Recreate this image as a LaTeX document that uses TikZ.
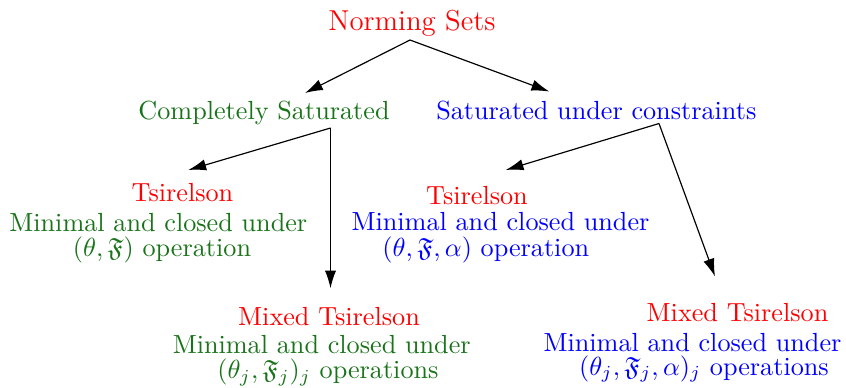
\documentclass[tikz,border=0pt]{standalone}
\usepackage{amsfonts}
\usetikzlibrary{arrows.meta}
\definecolor{dkgreen}{rgb}{0.1,0.45,0.1}
\tikzset{
  txt/.style={anchor=base, inner sep=0pt, font=\fontsize{10}{12}\selectfont},
  ttl/.style={txt, text=red},
  grn/.style={txt, text=dkgreen},
  blu/.style={txt, text=blue},
  link/.style={line width=0.45pt, -{Latex[length=6.8pt,width=4.3pt]}},
}
\begin{document}
\begin{tikzpicture}[x=0.3817pt,y=-0.3817pt]
\useasboundingbox (0,0) rectangle (846,387);

% root
\node[ttl, font=\fontsize{11}{13}\selectfont] (root) at (412,30.5) {Norming Sets};

% second level
\node[grn] (cs) at (264,119) {Completely Saturated};
\node[blu] (sc) at (596.3,119) {Saturated under constraints};

% leaves under "Completely Saturated"
\node[ttl] (tsL)  at (182.5,201.7) {Tsirelson};
\node[grn] (minL) at (158.3,231)   {Minimal and closed under};
\node[grn] (opL)  at (162,256.7)   {$(\theta,\mathfrak{F})$ operation};

\node[ttl] (mtL)   at (329,325)    {Mixed Tsirelson};
\node[grn] (mminL) at (321.7,353.3){Minimal and closed under};
\node[grn] (mopL)  at (328,378.3)  {$(\theta_j,\mathfrak{F}_j)_j$ operations};

% leaves under "Saturated under constraints"
\node[ttl] (tsR)  at (477,204.3)   {Tsirelson};
\node[blu] (minR) at (500.5,230)   {Minimal and closed under};
\node[blu] (opR)  at (485.8,256.7) {$(\theta,\mathfrak{F},\alpha)$ operation};

\node[ttl] (mtR)   at (737.5,321.7){Mixed Tsirelson};
\node[blu] (mminR) at (692.5,351.7){Minimal and closed under};
\node[blu] (mopR)  at (704,375)    {$(\theta_j,\mathfrak{F}_j,\alpha)_j$ operations};

% connector end points
\coordinate (rootOut) at (410,40);
\coordinate (csIn)    at (305,93);
\coordinate (scIn)    at (549.3,91.5);
\coordinate (csOut)   at (330.5,128);
\coordinate (scOut)   at (659,123.5);
\coordinate (tsLIn)   at (188.3,170);
\coordinate (mtLIn)   at (330.5,288.3);
\coordinate (tsRIn)   at (505.7,170);
\coordinate (mtRIn)   at (715,276.5);

\draw[link] (rootOut) -- (csIn);
\draw[link] (rootOut) -- (scIn);
\draw[link] (csOut) -- (tsLIn);
\draw[link] (csOut) -- (mtLIn);
\draw[link] (scOut) -- (tsRIn);
\draw[link] (scOut) -- (mtRIn);
\end{tikzpicture}
\end{document}
